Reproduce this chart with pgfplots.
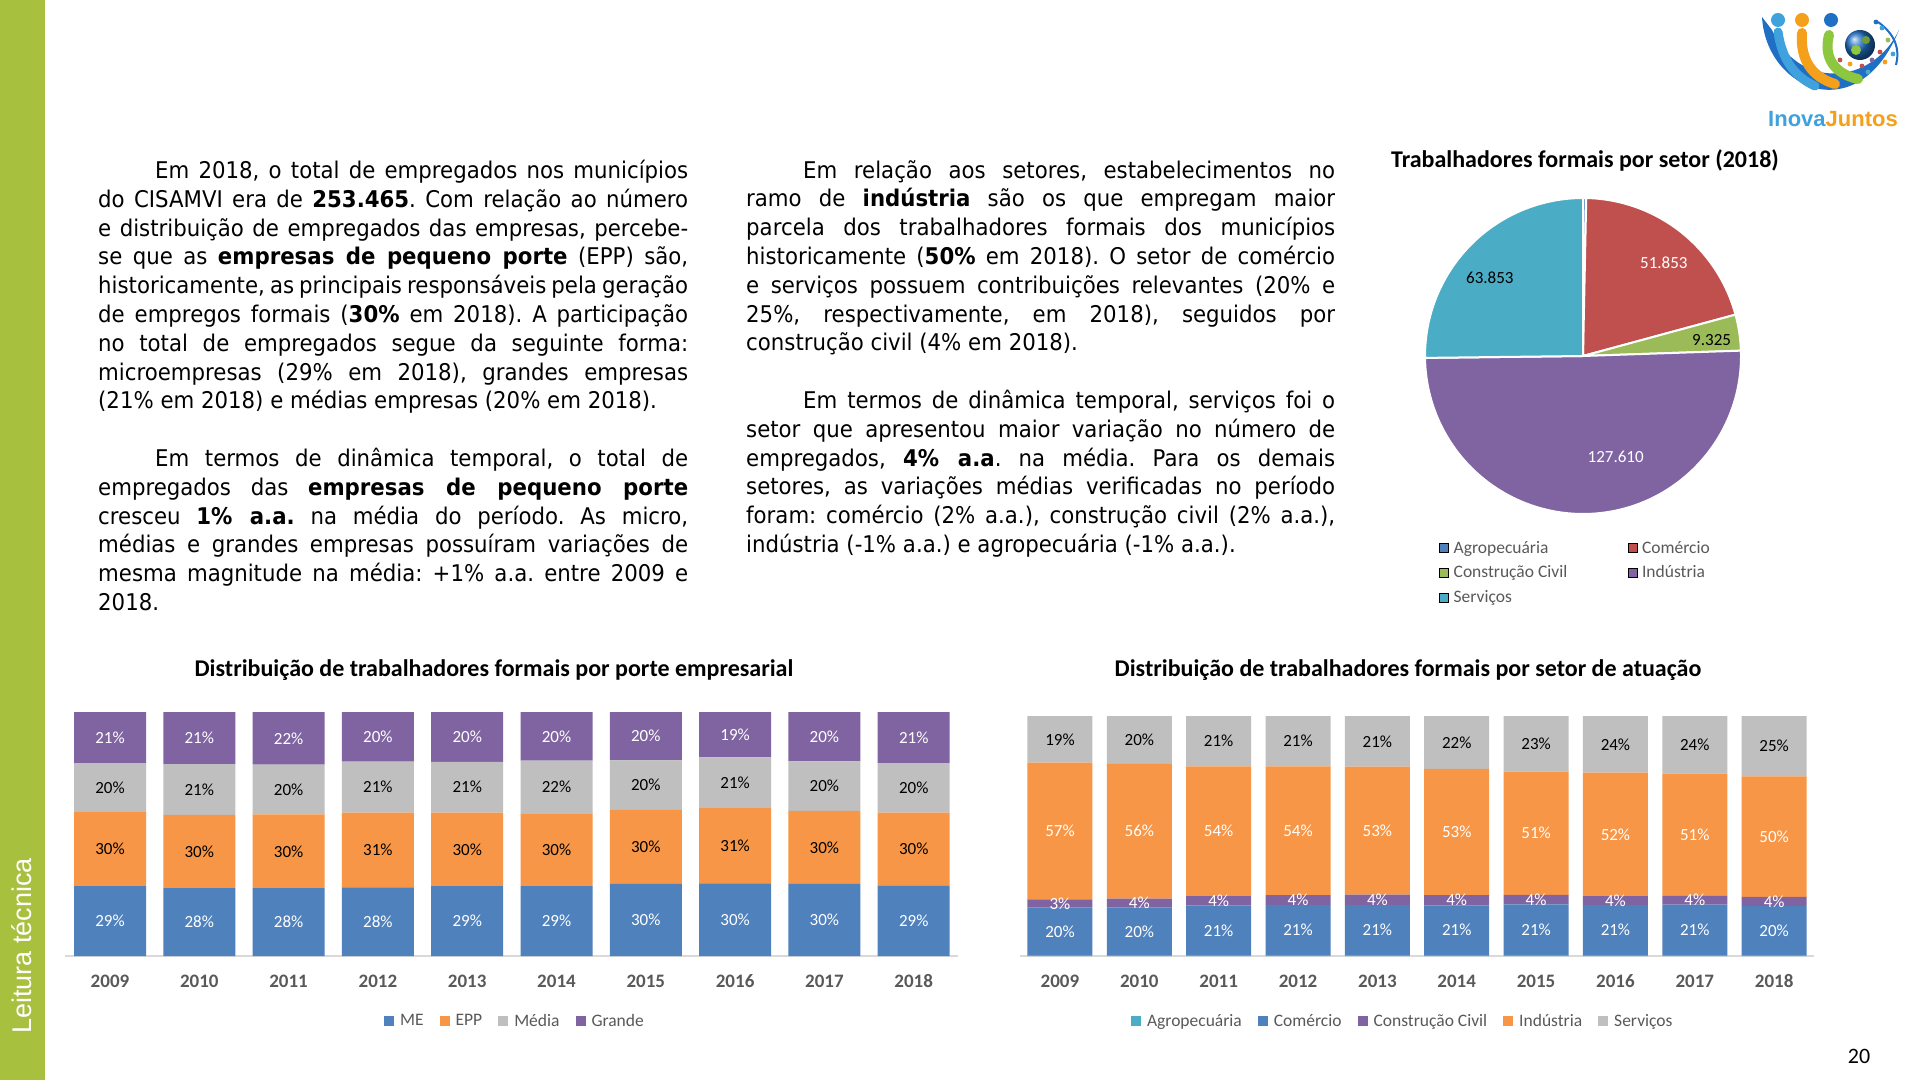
\documentclass[border=0pt]{standalone}
\usepackage{fontspec}
\setmainfont{Carlito}
\newfontfamily\corpo[FakeStretch=0.925]{DejaVu Sans}
\newfontfamily\arial{Liberation Sans}
\usepackage{pgfplots}
\usepackage{pgfplotstable}
\pgfplotsset{compat=1.18}
\frenchspacing

\definecolor{verde}{HTML}{A7C03E}
\definecolor{cME}{HTML}{4F81BD}
\definecolor{cEPP}{HTML}{F79646}
\definecolor{cMedia}{HTML}{BFBFBF}
\definecolor{cGrande}{HTML}{8064A2}
\definecolor{cCiano}{HTML}{4BACC6}
\definecolor{cVermelho}{HTML}{C0504D}
\definecolor{cVerdeP}{HTML}{9BBB59}
\definecolor{txtgray}{HTML}{595959}
\definecolor{linha}{HTML}{D9D9D9}
\definecolor{logoblue}{HTML}{1F6FC5}
\definecolor{logolight}{HTML}{3FA2DD}
\definecolor{logoorange}{HTML}{F5A01A}
\definecolor{logogreen}{HTML}{8DC63F}

% participacao por porte (%), 2009-2018
\pgfplotstableread{
i me epp media grande
0 28.6 30.4 20.0 21.0
1 27.8 30.0 20.8 21.4
2 27.8 30.2 20.4 21.6
3 28.1 30.7 20.9 20.3
4 28.6 30.2 20.8 20.4
5 28.6 29.9 21.6 19.9
6 29.6 30.3 20.3 19.8
7 29.8 30.8 20.8 18.6
8 29.6 29.9 20.3 20.2
9 28.7 30.1 20.2 21.0
}\porte

% participacao por setor (%), 2009-2018
\pgfplotstableread{
i agro com const ind serv
0 0.4 19.8 3.4 57.0 19.4
1 0.4 19.8 3.7 56.2 19.9
2 0.4 20.6 4.2 53.8 21.0
3 0.4 20.9 4.1 53.6 21.0
4 0.4 20.8 4.4 53.3 21.1
5 0.4 20.7 4.3 52.6 22.0
6 0.5 21.0 4.0 51.3 23.2
7 0.4 20.9 3.6 51.5 23.6
8 0.4 21.0 3.7 50.9 24.0
9 0.4 20.4 3.8 50.2 25.2
}\setor

% trabalhadores por setor, 2018
\pgfplotstableread{
setor valor
Agropecuaria 824
Comercio 51853
Construcao 9325
Industria 127610
Servicos 63853
}\pie

\pgfplotsset{
  quad/.style={legend image code/.code={\fill[##1] (0pt,-5pt) rectangle (10pt,5pt);}},
  seg/.style={fill=#1, draw=none, quad},
  lab/.style={only marks, mark=none, point meta=explicit,
    nodes near coords={\pgfmathprintnumber[fixed,precision=0,assume math mode=true]{\pgfplotspointmeta}\%},
    every node near coord/.style={anchor=center, text=#1, font=\fontsize{17}{17}\selectfont}},
  rot/.style={hide axis, clip=false, xmin=-0.5, xmax=9.5, ymin=0, ymax=100,
    enlarge x limits=false, enlarge y limits=false},
  barras/.style={
    ybar stacked, clip=false,
    xmin=-0.5, xmax=9.5, ymin=0, ymax=100,
    enlarge x limits=false, enlarge y limits=false,
    axis y line=none, axis x line*=bottom,
    x axis line style={draw=linha, line width=1.5pt, -},
    xtick={0,1,2,3,4,5,6,7,8,9},
    xticklabels={2009,2010,2011,2012,2013,2014,2015,2016,2017,2018},
    major tick length=0pt,
    xticklabel style={font=\bfseries\fontsize{19}{19}\selectfont, text=txtgray,
      text height=12.5pt, text depth=0pt, yshift=-15pt},
    legend style={draw=none, fill=none, legend columns=-1,
      font=\fontsize{17.5}{17.5}\selectfont, text=txtgray,
      /tikz/every odd column/.append style={column sep=4pt},
      /tikz/every even column/.append style={column sep=14pt}},
  },
}

\pgfplotstablegetelem{0}{valor}\of\pie \edef\vA{\pgfplotsretval}
\pgfplotstablegetelem{1}{valor}\of\pie \edef\vB{\pgfplotsretval}
\pgfplotstablegetelem{2}{valor}\of\pie \edef\vC{\pgfplotsretval}
\pgfplotstablegetelem{3}{valor}\of\pie \edef\vD{\pgfplotsretval}
\pgfplotstablegetelem{4}{valor}\of\pie \edef\vE{\pgfplotsretval}
\edef\vT{\fpeval{\vA+\vB+\vC+\vD+\vE}}
\edef\aA{90}
\edef\aB{\fpeval{90-360*(\vA)/\vT}}
\edef\aC{\fpeval{90-360*(\vA+\vB)/\vT}}
\edef\aD{\fpeval{90-360*(\vA+\vB+\vC)/\vT}}
\edef\aE{\fpeval{90-360*(\vA+\vB+\vC+\vD)/\vT}}
\edef\aF{-270}
\newcommand\rotulo[1]{\pgfmathprintnumber[fixed,precision=0,1000 sep={.},assume math mode=true]{#1}}

\begin{document}
\begin{tikzpicture}[x=1pt,y=1pt]
\fill[white] (0,0) rectangle (1920,1080);
\fill[verde] (0,0) rectangle (45,1080);
\node[rotate=90, text=white, font=\arial\fontsize{27}{27}\selectfont] at (22,134) {Leitura técnica};
\node[font=\fontsize{22}{22}\selectfont] at (1859,24) {20};

% logo
\fill[logoblue] (1762,1063) .. controls (1766,990) and (1858,950) .. (1899,1050)
  .. controls (1872,994) and (1798,990) .. (1772,1050) -- cycle;
\draw[logoblue, line width=2pt] (1878,1058) .. controls (1896,1045) and (1900,1030) .. (1896,1015);
\draw[logolight, line width=9pt, line cap=round] (1778,1048) .. controls (1782,1020) and (1795,1003) .. (1815,994);
\draw[logoorange, line width=10pt, line cap=round] (1802,1047) .. controls (1800,1020) and (1812,1003) .. (1835,996);
\draw[logogreen, line width=10pt, line cap=round] (1829,1045) .. controls (1823,1022) and (1835,1006) .. (1858,1001);
\fill[logolight] (1778,1060) circle (7);
\fill[logoorange] (1802,1060) circle (7);
\fill[logoblue] (1831,1060) circle (7);
\shade[ball color=logoblue] (1860,1035) circle (15);
\fill[logogreen] (1856,1030) circle (5);
\fill[logogreen!80!black] (1866,1040) circle (4);
\foreach \px/\py/\c in {1876/1058/logoblue,1882/1052/logolight,1888/1040/cVerdeP,1880/1028/cVermelho,1885/1018/logoorange,1872/1020/cGrande,1862/1014/cVermelho,1850/1016/logoorange,1840/1020/cVermelho,1868/1008/cCiano,1893/1026/logolight}
  \fill[\c] (\px,\py) circle (2.4);
\node[font=\arial\bfseries\fontsize{22}{22}\selectfont, inner sep=0pt] at (1833,961)
  {\textcolor{logolight}{Inova}\textcolor{logoorange}{Juntos}};

% texto
\tolerance=9999
\node[anchor=north west, inner sep=0pt, text width=590pt, align=justify,
      font=\corpo\fontsize{23}{28.8}\selectfont] at (98,920) {%
\hspace*{57pt}Em 2018, o total de empregados nos municípios\linebreak
do CISAMVI era de \textbf{253.465}. Com relação ao número\linebreak
e distribuição de empregados das empresas, percebe-\linebreak
se que as \textbf{empresas de pequeno porte} (EPP) são,\linebreak
historicamente, as principais responsáveis pela geração\linebreak
de empregos formais (\textbf{30\%} em 2018). A participação\linebreak
no total de empregados segue da seguinte forma:\linebreak
microempresas (29\% em 2018), grandes empresas\linebreak
(21\% em 2018) e médias empresas (20\% em 2018).\par
\vspace{28.8pt}
\hspace*{57pt}Em termos de dinâmica temporal, o total de\linebreak
empregados das \textbf{empresas de pequeno porte}\linebreak
cresceu \textbf{1\% a.a.} na média do período. As micro,\linebreak
médias e grandes empresas possuíram variações de\linebreak
mesma magnitude na média: +1\% a.a. entre 2009 e\linebreak
2018.};

\node[anchor=north west, inner sep=0pt, text width=589pt, align=justify,
      font=\corpo\fontsize{23}{28.8}\selectfont] at (746,920) {%
\hspace*{57pt}Em relação aos setores, estabelecimentos no\linebreak
ramo de \textbf{indústria} são os que empregam maior\linebreak
parcela dos trabalhadores formais dos municípios\linebreak
historicamente (\textbf{50\%} em 2018). O setor de comércio\linebreak
e serviços possuem contribuições relevantes (20\% e\linebreak
25\%, respectivamente, em 2018), seguidos por\linebreak
construção civil (4\% em 2018).\par
\vspace{28.8pt}
\hspace*{57pt}Em termos de dinâmica temporal, serviços foi o\linebreak
setor que apresentou maior variação no número de\linebreak
empregados, \textbf{4\% a.a}. na média. Para os demais\linebreak
setores, as variações médias verificadas no período\linebreak
foram: comércio (2\% a.a.), construção civil (2\% a.a.),\linebreak
indústria (-1\% a.a.) e agropecuária (-1\% a.a.).};

% titulos
\node[font=\bfseries\fontsize{24}{24}\selectfont] at (1585,920) {Trabalhadores formais por setor (2018)};
\node[font=\bfseries\fontsize{24}{24}\selectfont] at (494,410) {Distribuição de trabalhadores formais por porte empresarial};
\node[font=\bfseries\fontsize{24}{24}\selectfont] at (1408,410) {Distribuição de trabalhadores formais por setor de atuação};

% pizza
\begin{axis}[at={(1583pt,724pt)}, anchor=center, x=158pt, y=158pt,
  xmin=-1, xmax=1, ymin=-1, ymax=1, hide axis, clip=false,
  legend image code/.code={\fill[#1] (0pt,-4.5pt) rectangle (9pt,4.5pt);},
  legend columns=2, legend cell align=left,
  legend style={at={(0.035,-0.073)}, anchor=north west, draw=none, fill=none,
    font=\fontsize{17.5}{17.5}\selectfont, text=txtgray, row sep=7pt,
    /tikz/every odd column/.append style={column sep=3pt}}]
\fill[cME, draw=white, line width=2pt] (axis cs:0,0) -- ++(\aA:158pt) arc[start angle=\aA, end angle=\aB, radius=158pt] -- cycle;
\fill[cVermelho, draw=white, line width=2pt] (axis cs:0,0) -- ++(\aB:158pt) arc[start angle=\aB, end angle=\aC, radius=158pt] -- cycle;
\fill[cVerdeP, draw=white, line width=2pt] (axis cs:0,0) -- ++(\aC:158pt) arc[start angle=\aC, end angle=\aD, radius=158pt] -- cycle;
\fill[cGrande, draw=white, line width=2pt] (axis cs:0,0) -- ++(\aD:158pt) arc[start angle=\aD, end angle=\aE, radius=158pt] -- cycle;
\fill[cCiano, draw=white, line width=2pt] (axis cs:0,0) -- ++(\aE:158pt) arc[start angle=\aE, end angle=\aF, radius=158pt] -- cycle;
\node[text=white, font=\fontsize{17}{17}\selectfont] at (axis cs:{0.78*cos(49)},{0.78*sin(49)}) {\rotulo{\vB}};
\node[text=black, font=\fontsize{17}{17}\selectfont] at (axis cs:{0.82*cos(7)},{0.82*sin(7)}) {\rotulo{\vC}};
\node[text=white, font=\fontsize{17}{17}\selectfont] at (axis cs:{0.67*cos(-72)},{0.67*sin(-72)}) {\rotulo{\vD}};
\node[text=black, font=\fontsize{17}{17}\selectfont] at (axis cs:{0.77*cos(140)},{0.77*sin(140)}) {\rotulo{\vE}};
\addlegendimage{fill=cME}
\addlegendentry{\makebox[172pt][l]{Agropecuária}}
\addlegendimage{fill=cVermelho}
\addlegendentry{Comércio}
\addlegendimage{fill=cVerdeP}
\addlegendentry{\makebox[172pt][l]{Construção Civil}}
\addlegendimage{fill=cGrande}
\addlegendentry{Indústria}
\addlegendimage{fill=cCiano}
\addlegendentry{\makebox[172pt][l]{Serviços}}
\end{axis}

% porte empresarial
\begin{axis}[barras, at={(65.35pt,124pt)}, anchor=south west,
  x=89.3pt, y=2.44pt, bar width=72pt,
  legend style={at={(0.5035,-0.266)}, anchor=center}]
\addplot[seg=cME] table[x=i,y=me]{\porte};
\addplot[seg=cEPP] table[x=i,y=epp]{\porte};
\addplot[seg=cMedia] table[x=i,y=media]{\porte};
\addplot[seg=cGrande] table[x=i,y=grande]{\porte};
\legend{ME, EPP, Média, Grande}
\end{axis}
% rotulos no meio de cada segmento
\begin{axis}[rot, at={(65.35pt,124pt)}, anchor=south west, x=89.3pt, y=2.44pt]
\addplot[lab=white] table[x=i, y expr={\thisrow{me}/2}, meta=me]{\porte};
\addplot[lab=black] table[x=i, y expr={\thisrow{me}+\thisrow{epp}/2}, meta=epp]{\porte};
\addplot[lab=black] table[x=i, y expr={\thisrow{me}+\thisrow{epp}+\thisrow{media}/2}, meta=media]{\porte};
\addplot[lab=white] table[x=i, y expr={\thisrow{me}+\thisrow{epp}+\thisrow{media}+\thisrow{grande}/2}, meta=grande]{\porte};
\end{axis}

% setor de atuacao
\begin{axis}[barras, at={(1020.3pt,124pt)}, anchor=south west,
  x=79.35pt, y=2.40pt, bar width=65pt,
  legend style={at={(0.482,-0.271)}, anchor=center}]
\addplot[seg=cCiano] table[x=i,y=agro]{\setor};
\addplot[seg=cME] table[x=i,y=com]{\setor};
\addplot[seg=cGrande] table[x=i,y=const]{\setor};
\addplot[seg=cEPP] table[x=i,y=ind]{\setor};
\addplot[seg=cMedia] table[x=i,y=serv]{\setor};
\legend{Agropecuária, Comércio, Construção Civil, Indústria, Serviços}
\end{axis}
\begin{axis}[rot, at={(1020.3pt,124pt)}, anchor=south west, x=79.35pt, y=2.40pt]
\addplot[lab=white] table[x=i, y expr={\thisrow{agro}+\thisrow{com}/2}, meta=com]{\setor};
\addplot[lab=white] table[x=i, y expr={\thisrow{agro}+\thisrow{com}+\thisrow{const}/2}, meta=const]{\setor};
\addplot[lab=white] table[x=i, y expr={\thisrow{agro}+\thisrow{com}+\thisrow{const}+\thisrow{ind}/2}, meta=ind]{\setor};
\addplot[lab=black] table[x=i, y expr={\thisrow{agro}+\thisrow{com}+\thisrow{const}+\thisrow{ind}+\thisrow{serv}/2}, meta=serv]{\setor};
\end{axis}

\pgfresetboundingbox
\path (0,0) rectangle (1920,1080);
\end{tikzpicture}
\end{document}
